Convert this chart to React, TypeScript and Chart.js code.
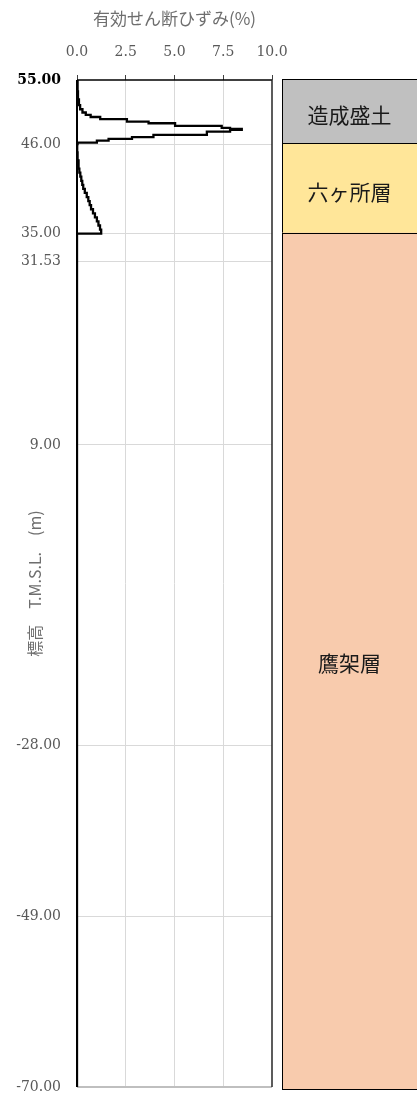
import React, { useEffect, useRef } from "react";
import { Chart, registerables } from "chart.js";

Chart.register(...registerables);

// ---- Titles ----
const xTitle = "有効せん断ひずみ(%)";
const yTitle = "標高　T.M.S.L.　(m)";

// ---- Axes ----
const xMin = 0;
const xMax = 10;
const xStep = 2.5;
const yTopElevation = 53.9;
const yBottomElevation = -70;
const yTickValues = [53.9, 46, 35, 31.53, 9, -28, -49, -70];
const yTickLabels = ["55.00", "46.00", "35.00", "31.53", "9.00", "-28.00", "-49.00", "-70.00"];

// ---- Strain profile (layer top elevation, effective shear strain %) ----
const layerTopElevation = [
  53.9, 52.5, 51.5, 50.8, 50.3, 49.9, 49.6, 49.35, 49.08, 48.78, 48.58, 48.25, 48.0, 47.88,
  47.76, 47.55, 47.14, 46.86, 46.65, 46.44, 46.2, 46.0, 45.0, 44.0, 43.0, 42.5, 42.0, 41.5,
  41.0, 40.5, 40.0, 39.5, 39.0, 38.5, 38.0, 37.5, 37.0, 36.5, 36.0, 35.5, 35.0, -70.0,
];
const layerStrain = [
  0.03, 0.05, 0.1, 0.16, 0.28, 0.45, 0.7, 1.19, 2.56, 3.67, 5.03, 7.42, 7.85, 8.45,
  7.85, 6.66, 3.92, 2.82, 1.62, 1.02, 0.03, 0.01, 0.03, 0.08, 0.12, 0.17, 0.22, 0.27,
  0.32, 0.4, 0.5, 0.58, 0.65, 0.72, 0.82, 0.92, 1.02, 1.1, 1.18, 1.24, 0.0, 0.0,
];

// ---- Strata column ----
const strataNames = ["造成盛土", "六ヶ所層", "鷹架層"];
const strataTop = [53.9, 46, 35];
const strataBottom = [46, 35, -70];
const strataColors = ["#C0C0C0", "#FFE699", "#F8CBAD"];

const SERIF = '"DejaVu Serif", "Liberation Serif", serif';
const JP = '"Noto Sans CJK JP", sans-serif';

const framePlugin = {
  id: "frame",
  beforeDatasetsDraw(chart: any) {
    const { ctx, chartArea: a } = chart;
    ctx.save();
    ctx.strokeStyle = "#000";
    ctx.lineWidth = 1.5;
    ctx.beginPath();
    ctx.moveTo(a.left, a.top);
    ctx.lineTo(a.right, a.top);
    ctx.stroke();
    ctx.strokeStyle = "#262626";
    ctx.beginPath();
    ctx.moveTo(a.right, a.top);
    ctx.lineTo(a.right, a.bottom);
    ctx.stroke();
    ctx.strokeStyle = "#000";
    ctx.lineWidth = 2;
    ctx.beginPath();
    ctx.moveTo(a.left, a.top);
    ctx.lineTo(a.left, a.bottom);
    ctx.stroke();
    ctx.restore();
  },
};

const strataPlugin = {
  id: "strata",
  afterDraw(chart: any) {
    const { ctx } = chart;
    const y = chart.scales.y;
    const x0 = chart.chartArea.right + 10;
    const x1 = chart.width + 2;
    ctx.save();
    for (let i = 0; i < strataNames.length; i++) {
      const t = y.getPixelForValue(strataTop[i]) - 1;
      const b = y.getPixelForValue(strataBottom[i]) + (i === strataNames.length - 1 ? 2 : 0);
      ctx.fillStyle = strataColors[i];
      ctx.fillRect(x0, t, x1 - x0, b - t);
      ctx.strokeStyle = "#000";
      ctx.lineWidth = 1;
      ctx.strokeRect(Math.round(x0) + 0.5, Math.round(t) + 0.5, x1 - x0, Math.round(b - t));
    }
    ctx.fillStyle = "#1a1a1a";
    ctx.font = `21px ${JP}`;
    ctx.textAlign = "center";
    ctx.textBaseline = "middle";
    for (let i = 0; i < strataNames.length; i++) {
      const t = y.getPixelForValue(strataTop[i]);
      const b = y.getPixelForValue(strataBottom[i]);
      ctx.fillText(strataNames[i], (x0 + chart.width) / 2, (t + b) / 2 + 3);
    }
    ctx.restore();
  },
};

export default function App() {
  const canvasRef = useRef<HTMLCanvasElement | null>(null);

  useEffect(() => {
    document.body.style.margin = "0";
    document.body.style.overflow = "hidden";
    const canvas = canvasRef.current;
    if (!canvas) return;
    const points = layerTopElevation.map((e, i) => ({ x: layerStrain[i], y: e }));
    const chart = new Chart(canvas, {
      type: "scatter",
      data: {
        datasets: [
          {
            data: points,
            showLine: true,
            stepped: "after",
            borderColor: "#000",
            borderWidth: 2.3,
            pointRadius: 0,
            fill: false,
          } as any,
        ],
      },
      options: {
        animation: false,
        responsive: true,
        maintainAspectRatio: false,
        layout: { padding: { top: 0, left: 0, right: 145, bottom: 10 } },
        plugins: { legend: { display: false }, tooltip: { enabled: false } },
        scales: {
          x: {
            type: "linear",
            position: "top",
            min: xMin,
            max: xMax,
            ticks: {
              stepSize: xStep,
              padding: 14,
              color: "#595959",
              font: { family: SERIF, size: 14 },
              callback: (v: any) => Number(v).toFixed(1),
            },
            grid: {
              color: (c: any) => (c.index === 0 || c.index === 4 ? "rgba(0,0,0,0)" : "#D9D9D9"),
              tickColor: "#404040",
              tickLength: 5,
              lineWidth: 1,
            },
            border: { display: false },
            title: {
              display: true,
              text: xTitle,
              color: "#6e6e6e",
              font: { family: JP, size: 17 },
              padding: { top: 8, bottom: 0 },
            },
            afterFit: (s: any) => {
              s.height = 80;
              s.paddingLeft = 0;
              s.paddingRight = 0;
            },
          },
          y: {
            type: "linear",
            min: yBottomElevation,
            max: yTopElevation,
            afterBuildTicks: (s: any) => {
              s.ticks = yTickValues.map((v) => ({ value: v }));
            },
            ticks: {
              padding: 16,
              color: (c: any) => (c.index === 0 ? "#000" : "#595959"),
              font: (c: any) =>
                c.index === 0
                  ? { family: SERIF, size: 14, weight: "bold" }
                  : { family: SERIF, size: 14 },
              callback: (_v: any, i: number) => yTickLabels[i],
            },
            grid: {
              color: (c: any) =>
                c.index === 0 ? "rgba(0,0,0,0)" : c.index === yTickValues.length - 1 ? "#BFBFBF" : "#D9D9D9",
              lineWidth: (c: any) => (c.index === yTickValues.length - 1 ? 2 : 1),
              drawTicks: false,
            },
            border: { display: false },
            title: {
              display: true,
              text: yTitle,
              color: "#6e6e6e",
              font: { family: JP, size: 16 },
              padding: { top: 25, bottom: 0 },
            },
            afterFit: (s: any) => {
              s.width = 77;
              s.paddingTop = 0;
              s.paddingBottom = 0;
            },
          },
        },
      },
      plugins: [framePlugin, strataPlugin],
    });
    return () => chart.destroy();
  }, []);

  return (
    <div style={{ position: "relative", width: 417, height: 1097 }}>
      <canvas ref={canvasRef} />
    </div>
  );
}
